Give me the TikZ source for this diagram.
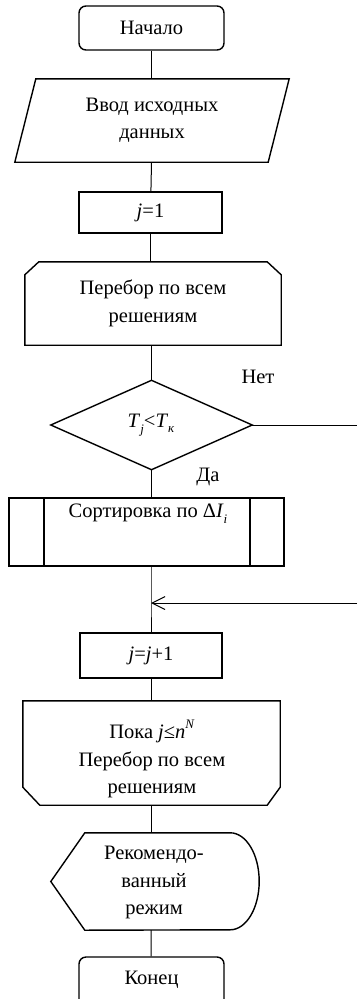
\documentclass[tikz,border=0pt]{standalone}
\usepackage{fontspec}
\setmainfont{Liberation Serif}
\usetikzlibrary{arrows.meta,calc}
\begin{document}
\begin{tikzpicture}[x=1pt,y=-1pt,
  every node/.style={font=\fontsize{20.5}{27.5}\selectfont, align=center, inner sep=0pt},
  shp/.style={draw, line width=1.4pt},
  blank/.style={draw=none},
  conn/.style={line width=1pt},
  lbl/.style={}]
\useasboundingbox (0,0) rectangle (357,999);
% blocks
\node[shp, rounded corners=7pt, minimum width=145pt, minimum height=44pt] (start) at (151.5,28) {Начало};
\node[blank, minimum width=253pt, minimum height=83pt] (inp) at (152,120.5) {Ввод исходных\\данных};
\draw[shp] ([xshift=-10.5pt]inp.south west) -- ([xshift=10.5pt]inp.north west) -- ([xshift=10.5pt]inp.north east) -- ([xshift=-10.5pt]inp.south east) -- cycle;
\node[shp, minimum width=143pt, minimum height=41pt] (init) at (150.5,212.5) {\textit{j}=1};
\node[blank, minimum width=256pt, minimum height=83pt] (ls) at (153,303.5) {Перебор по всем\\решениям};
\draw[shp] ([yshift=-13pt]ls.north west) -- ([xshift=14pt]ls.north west) -- ([xshift=-14pt]ls.north east) -- ([yshift=-13pt]ls.north east) -- (ls.south east) -- (ls.south west) -- cycle;
\node[blank, minimum width=201pt, minimum height=89pt] (dia) at (151.5,425) {};
\draw[shp] (dia.north) -- (dia.east) -- (dia.south) -- (dia.west) -- cycle;
\node (diat) at (151,425) {\textit{T}\raisebox{-0.28em}{\fontsize{13}{13}\selectfont\textit{j}}<\textit{T}\raisebox{-0.25em}{\fontsize{13}{13}\selectfont\textit{к}}};
\node[shp, minimum width=275pt, minimum height=68pt] (sort) at (146.5,532) {};
\draw[shp] (44,498) -- (44,566) (250,498) -- (250,566);
\node (sortt) at (148,514) {Сортировка по Δ\textit{I}\raisebox{-0.28em}{\fontsize{13}{13}\selectfont\textit{i}}};
\coordinate (mrg) at (151,603);
\coordinate (ret) at (357,603);
\coordinate (no) at (357,425);
\node[shp, minimum width=142pt, minimum height=45pt] (incr) at (151,655.5) {\textit{j}=\textit{j}+1};
\node[blank, minimum width=257pt, minimum height=104pt] (le) at (151.5,753) {};
\draw[shp] (le.north west) -- (le.north east) -- ([yshift=18pt]le.south east) -- ([xshift=-13pt]le.south east) -- ([xshift=17pt]le.south west) -- ([yshift=18pt]le.south west) -- cycle;
\node (let) at (152,759) {Пока \textit{j}≤\textit{n}\raisebox{0.5em}{\fontsize{13}{13}\selectfont\textit{N}}\\Перебор по всем\\решениям};
\node[blank, minimum width=208pt, minimum height=97pt] (disp) at (155,881.5) {};
\draw[shp] (disp.west) -- ([xshift=34pt]disp.north west) -- ([xshift=-29pt]disp.north east) arc[start angle=90,end angle=-90,x radius=29pt,y radius=48.5pt] -- ([xshift=34pt]disp.south west) -- cycle;
\node (dispt) at (154,882.5) {Рекомендо-\\ванный\\режим};
\node[shp, rounded corners=7pt, minimum width=145pt, minimum height=52pt] (end) at (151.5,983) {};
\node (endt) at (151.5,980) {Конец};
% connectors
\draw[conn] (start) -- (start |- inp.north);
\draw[conn] (inp.south -| start) -- (init);
\draw[conn] (init) -- (init |- ls.north);
\draw[conn] (ls.south -| dia.north) -- (dia.north);
\draw[conn] (dia.east) -- (no);
\draw[conn] (dia.south) -- (dia.south |- sort.north);
\draw[conn] (mrg |- sort.south) -- (mrg) -- (incr.north);
\draw[conn, -{Straight Barb[length=13pt,width=13pt,line width=1pt]}] (ret) -- (mrg);
\draw[conn] (incr) -- (incr |- le.north);
\draw[conn] (le.south -| incr) -- (incr |- disp.north);
\draw[conn] (disp.south -| incr) -- (end);
% labels
\node[lbl] (net) at (258,377) {Нет};
\node[lbl] (da) at (208,477) {Да};
\end{tikzpicture}
\end{document}
